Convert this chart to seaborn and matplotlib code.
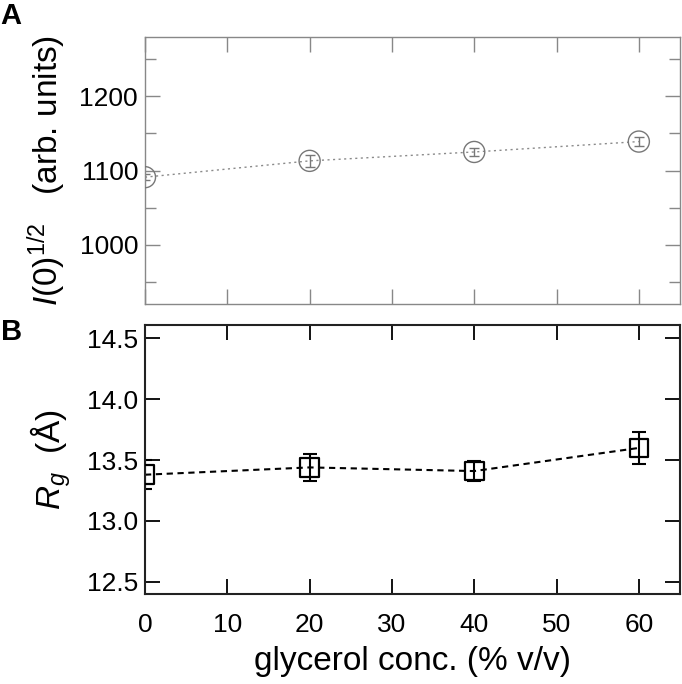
import numpy as np
import pandas as pd
import matplotlib
matplotlib.use("Agg")
import matplotlib.pyplot as plt
import seaborn as sns
from matplotlib.ticker import MultipleLocator

# Data
glycerol = [0, 20, 40, 60]
i0_sqrt = [1091, 1113, 1125, 1139]
i0_err = [4, 8, 6, 6]
rg = [13.38, 13.44, 13.41, 13.60]
rg_err = [0.12, 0.11, 0.08, 0.13]

df = pd.DataFrame({"glycerol": glycerol, "i0": i0_sqrt, "i0_err": i0_err,
                   "rg": rg, "rg_err": rg_err})

sns.set_style("ticks")
plt.rcParams['font.family'] = ['Liberation Sans', 'DejaVu Sans']
plt.rcParams['mathtext.fontset'] = 'custom'
plt.rcParams['mathtext.it'] = 'Liberation Sans:italic'
plt.rcParams['mathtext.rm'] = 'Liberation Sans'
for k in ["text.color", "axes.labelcolor", "xtick.color", "ytick.color",
          "xtick.labelcolor", "ytick.labelcolor"]:
    plt.rcParams[k] = "black"

fig = plt.figure(figsize=(6.82, 6.84), dpi=100)
axA = fig.add_axes([145/682, 1-304/684, 535/682, 267/684])
axB = fig.add_axes([145/682, 1-594/684, 535/682, 269/684])

grayc = "#777777"

# Panel A
sns.lineplot(data=df, x="glycerol", y="i0", ax=axA, color="#8a8a8a",
             linestyle=(0, (1.5, 2.5)), linewidth=1.0, zorder=1)
axA.errorbar(df["glycerol"], df["i0"], yerr=df["i0_err"], fmt="none",
             ecolor=grayc, elinewidth=1.0, capsize=3.5, capthick=1.0, zorder=2)
sns.scatterplot(data=df, x="glycerol", y="i0", ax=axA, marker="o", s=230,
                facecolor="none", edgecolor=grayc, linewidth=1.0, zorder=3)
axA.set_xlim(0, 65)
axA.set_ylim(920, 1280)
axA.yaxis.set_major_locator(MultipleLocator(100))
axA.yaxis.set_minor_locator(MultipleLocator(50))
axA.xaxis.set_major_locator(MultipleLocator(10))
axA.tick_params(axis="both", which="both", direction="in", top=True, right=True,
                color="#888888", labelcolor="black", width=1.0)
axA.tick_params(axis="both", which="major", length=11)
axA.tick_params(axis="y", which="minor", length=8)
axA.tick_params(axis="x", labelbottom=False)
axA.tick_params(axis="y", labelsize=19, pad=5)
for sp in axA.spines.values():
    sp.set_visible(True)
    sp.set_color("#888888")
    sp.set_linewidth(1.0)
axA.set_xlabel("")
axA.set_ylabel(r"$I$(0)$^{1/2}$   (arb. units)", fontsize=24, labelpad=8)

# Panel B
sns.lineplot(data=df, x="glycerol", y="rg", ax=axB, color="black",
             linestyle=(0, (3, 2.2)), linewidth=1.5, zorder=1)
axB.errorbar(df["glycerol"], df["rg"], yerr=df["rg_err"], fmt="none",
             ecolor="black", elinewidth=1.5, capsize=5, capthick=1.5, zorder=2)
sns.scatterplot(data=df, x="glycerol", y="rg", ax=axB, marker="s", s=180,
                facecolor="none", edgecolor="black", linewidth=1.6, zorder=3)
axB.set_xlim(0, 65)
axB.set_ylim(12.4, 14.61)
axB.yaxis.set_major_locator(MultipleLocator(0.5))
axB.yaxis.set_major_formatter(matplotlib.ticker.FormatStrFormatter("%.1f"))
axB.xaxis.set_major_locator(MultipleLocator(10))
axB.tick_params(axis="both", which="both", direction="in", top=True, right=True,
                color="black", width=1.3, length=11)
axB.tick_params(axis="both", labelsize=19)
axB.tick_params(axis="x", pad=14)
axB.tick_params(axis="y", pad=5)
for sp in axB.spines.values():
    sp.set_visible(True)
    sp.set_color("#222222")
    sp.set_linewidth(1.5)
axB.set_xlabel("glycerol conc. (% v/v)", fontsize=24, labelpad=6)
axB.set_ylabel(r"$R_g$  (Å)", fontsize=24, labelpad=10)

fig.text(0/682, 1-2/684, "A", fontsize=21, fontweight="bold", va="top", ha="left")
fig.text(1/682, 1-318/684, "B", fontsize=21, fontweight="bold", va="top", ha="left")

fig.savefig("out.png", dpi=100)
